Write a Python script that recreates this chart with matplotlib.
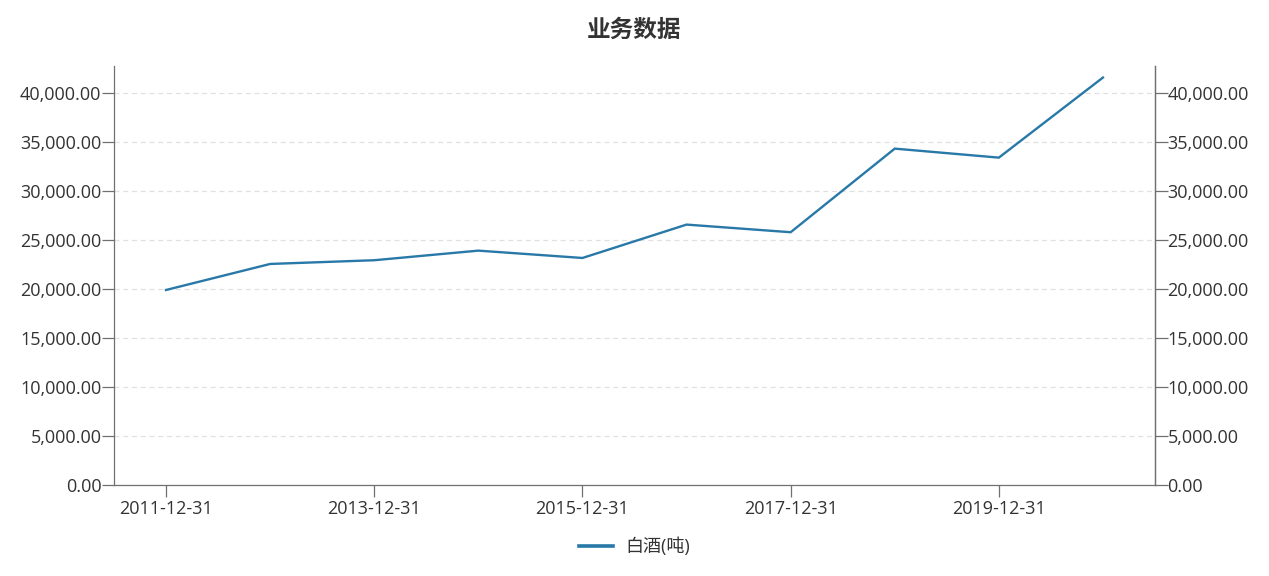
import matplotlib
matplotlib.use("Agg")
import matplotlib.pyplot as plt
from matplotlib.ticker import FuncFormatter, MultipleLocator
from matplotlib.lines import Line2D

plt.rcParams['font.family'] = ['Open Sans', 'Noto Sans CJK SC', 'DejaVu Sans']

dates = ["2011-12-31", "2012-12-31", "2013-12-31", "2014-12-31", "2015-12-31",
         "2016-12-31", "2017-12-31", "2018-12-31", "2019-12-31", "2020-12-31"]
values = [19920, 22580, 22960, 23940, 23190, 26600, 25820, 34360, 33440, 41620]
series_name = "白酒(吨)"
title = "业务数据"

fig = plt.figure(figsize=(12.69, 5.76), dpi=100)
ax = fig.add_axes([114/1269, 1-485/576, (1155-114)/1269, (485-66)/576])

x = list(range(len(dates)))
color = '#2878a8'
ax.plot(x, values, color=color, lw=1.7, solid_joinstyle='miter')

ax.set_xlim(-0.5, len(dates) - 0.5)
ax.set_ylim(0, 42800)
ax.yaxis.set_major_locator(MultipleLocator(5000))
fmt = FuncFormatter(lambda v, p: f"{v:,.2f}")
ax.yaxis.set_major_formatter(fmt)
ax.set_xticks(x[::2])
ax.set_xticklabels(dates[::2])

ax.grid(axis='y', color='#e0e0e0', linestyle=(0, (4, 3)), lw=0.9)
ax.set_axisbelow(True)

axis_color = '#707070'
ax.spines['top'].set_visible(False)
for s in ['left', 'bottom', 'right']:
    ax.spines[s].set_color(axis_color)
    ax.spines[s].set_linewidth(0.9)

ax.tick_params(axis='both', colors=axis_color, labelcolor='#333333', labelsize=13,
               width=0.9, direction='out')
ax.tick_params(axis='x', length=8.5, pad=2)
ax.tick_params(axis='y', length=9, pad=0)

ax2 = ax.twinx()
ax2.set_ylim(ax.get_ylim())
ax2.yaxis.set_major_locator(MultipleLocator(5000))
ax2.yaxis.set_major_formatter(fmt)
ax2.spines['right'].set_color(axis_color)
ax2.spines['right'].set_linewidth(0.9)
for s in ['top', 'left', 'bottom']:
    ax2.spines[s].set_visible(False)
ax2.tick_params(axis='y', colors=axis_color, labelcolor='#333333', labelsize=13,
                length=9, width=0.9, direction='out', pad=0)

fig.text(0.5, 1-30/576, title, ha='center', va='center', fontsize=17,
         fontweight='bold', color='#333333',
         family=['Noto Sans CJK SC', 'DejaVu Sans'])

handle = Line2D([], [], color=color, lw=2.6)
fig.legend([handle], [series_name], loc='center', bbox_to_anchor=(0.5, 1-547/576),
           frameon=False, handlelength=1.85, handletextpad=0.7,
           labelcolor='#333333', prop={'family': ['Open Sans', 'Noto Sans CJK SC'], 'size': 13})

fig.savefig("out.png", dpi=100)
